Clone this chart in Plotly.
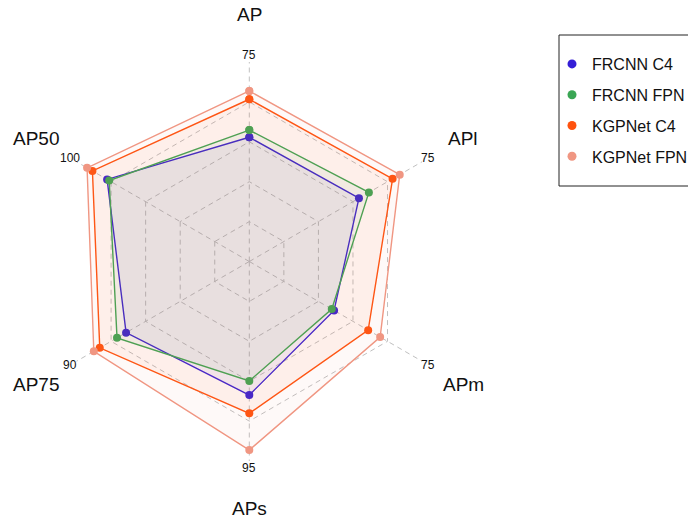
import math
import plotly.graph_objects as go

# ---- data ----
axes_labels = ["AP", "APl", "APm", "APs", "AP75", "AP50"]
axes_max = [75, 75, 75, 95, 90, 100]
series_names = ["FRCNN C4", "FRCNN FPN", "KGPNet C4", "KGPNet FPN"]
frcnn_c4 = [46.7, 47.6, 36.8, 63.6, 64.2, 82.3]
frcnn_fpn = [49.4, 51.9, 35.8, 56.9, 68.9, 81.1]
kgpnet_c4 = [61.0, 62.2, 51.6, 72.3, 77.9, 90.8]
kgpnet_fpn = [64.1, 65.3, 56.8, 89.8, 81.0, 93.9]

colors = ["rgb(52,30,214)", "rgb(58,166,84)", "rgb(255,82,14)", "rgb(240,150,130)"]
fills = ["rgba(52,30,214,0.06)", "rgba(58,166,84,0.06)", "rgba(255,82,14,0.06)", "rgba(240,150,130,0.06)"]
series = [frcnn_c4, frcnn_fpn, kgpnet_c4, kgpnet_fpn]

W, H = 688, 519
# polar geometry (pixels)
CX, CY, R = 249.3, 261.5, 199.5
dom_x = [(CX - R) / W, (CX + R) / W]
dom_y = [1 - (CY + R) / H, 1 - (CY - R) / H]

fig = go.Figure()

for name, vals, col, fc in zip(series_names, series, colors, fills):
    r = [v / m for v, m in zip(vals, axes_max)]
    fig.add_trace(go.Scatterpolar(
        r=r + r[:1], theta=axes_labels + axes_labels[:1],
        mode="lines+markers", fill="toself", fillcolor=fc,
        line=dict(color=col, width=1.4), marker=dict(color=col, size=8),
        name=name, showlegend=False, hoverinfo="skip", cliponaxis=False,
    ))

# legend-only entries (dots)
for i, (name, col) in enumerate(zip(series_names, colors)):
    fig.add_trace(go.Scatterpolar(
        r=[None], theta=[axes_labels[0]], mode="markers",
        marker=dict(color=col, size=9), name=name, legendgroup=f"g{i}",
        showlegend=True,
    ))

# axis names and max labels as annotations around the polygon
annotations = []
n = len(axes_labels)
for i, (lab, mx) in enumerate(zip(axes_labels, axes_max)):
    ang = math.pi / 2 - 2 * math.pi * i / n
    for rr, txt, size in ((1.035, str(mx), 12), (1.237, lab, 19)):
        px = CX + rr * R * math.cos(ang)
        py = CY - rr * R * math.sin(ang)
        annotations.append(dict(x=px / W, y=1 - py / H, xref="paper", yref="paper",
                                text=txt, showarrow=False, xanchor="center", yanchor="middle",
                                font=dict(size=size, color="#111")))

grid_col = "rgb(192,192,192)"
fig.update_layout(
    width=W, height=H,
    margin=dict(l=0, r=0, t=0, b=0, autoexpand=False),
    paper_bgcolor="white", plot_bgcolor="white",
    font=dict(family="Liberation Sans, Arial, sans-serif", color="#111"),
    polar=dict(
        domain=dict(x=dom_x, y=dom_y),
        bgcolor="white",
        gridshape="linear",
        radialaxis=dict(range=[0, 1], tickvals=[0.2, 0.4, 0.6, 0.8, 1.0],
                        showticklabels=False, ticks="", showline=False,
                        gridcolor=grid_col, gridwidth=1, griddash="5px,4px"),
        angularaxis=dict(type="category", categoryarray=axes_labels,
                         rotation=90, direction="clockwise",
                         showticklabels=False, ticks="", showline=False,
                         gridcolor=grid_col, gridwidth=1, griddash="5px,4px"),
    ),
    legend=dict(x=552 / W, y=1 - 47 / H, xanchor="left", yanchor="top",
                bgcolor="rgba(0,0,0,0)", borderwidth=0,
                font=dict(size=16, color="#111"),
                traceorder="grouped", tracegroupgap=7),
    shapes=[dict(type="rect", xref="paper", yref="paper",
                 x0=559 / W, x1=700 / W, y0=1 - 186 / H, y1=1 - 35 / H,
                 line=dict(color="#222", width=1), fillcolor="rgba(0,0,0,0)")],
    annotations=annotations,
)

fig.write_html("out.html", config={"displayModeBar": False},
               post_script="document.body.style.margin='0';")
